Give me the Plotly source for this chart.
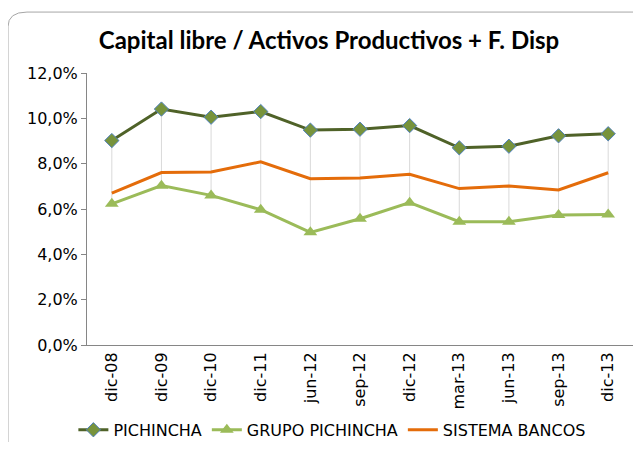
import plotly.graph_objects as go

# Datos (en %)
periodos = ["dic-08", "dic-09", "dic-10", "dic-11", "jun-12", "sep-12",
            "dic-12", "mar-13", "jun-13", "sep-13", "dic-13"]
pichincha = [9.02, 10.41, 10.05, 10.30, 9.48, 9.52, 9.68, 8.70, 8.77, 9.23, 9.32]
grupo_pichincha = [6.23, 7.03, 6.60, 5.97, 4.97, 5.57, 6.28, 5.44, 5.44, 5.74, 5.76]
sistema_bancos = [6.70, 7.61, 7.63, 8.08, 7.34, 7.37, 7.53, 6.90, 7.01, 6.84, 7.60]

font_ticks = "DejaVu Sans"

fig = go.Figure()

# Líneas máximo-mínimo por periodo
hl_x, hl_y = [], []
for i, p in enumerate(periodos):
    vals = [pichincha[i], grupo_pichincha[i], sistema_bancos[i]]
    hl_x += [p, p, None]
    hl_y += [max(vals), min(vals), None]
fig.add_trace(go.Scatter(
    x=hl_x, y=hl_y, mode="lines", showlegend=False, hoverinfo="skip",
    line=dict(color="#D9D9D9", width=1)
))

fig.add_trace(go.Scatter(
    x=periodos, y=pichincha, name="PICHINCHA", mode="lines+markers",
    line=dict(color="#4F6228", width=3),
    marker=dict(symbol="diamond", size=11, color="#77933C",
                line=dict(color="#4F81BD", width=1))
))
fig.add_trace(go.Scatter(
    x=periodos, y=grupo_pichincha, name="GRUPO PICHINCHA", mode="lines+markers",
    line=dict(color="#9BBB59", width=3),
    marker=dict(symbol="triangle-up", size=12, color="#9BBB59")
))
fig.add_trace(go.Scatter(
    x=periodos, y=sistema_bancos, name="SISTEMA BANCOS", mode="lines",
    line=dict(color="#E46C0A", width=3)
))

# Marco del gráfico
fig.add_shape(
    type="path", xref="paper", yref="paper",
    path="M -0.1447,-0.45 L -0.1447,1.17 Q -0.1447,1.224 -0.11,1.224 L 1.05,1.224",
    line=dict(color="#A6A6A6", width=1), layer="below"
)

# la página añade 8px de margen por cada lado: 641-16 x 450-16
fig.update_layout(
    width=625, height=434,
    margin=dict(l=79, r=0, t=65, b=96.5),
    paper_bgcolor="white", plot_bgcolor="white",
    separators=",.",
    title=dict(
        text="<b>Capital libre / Activos Productivos + F. Disp</b>",
        x=0.5136, xanchor="center", y=0.926, yanchor="middle",
        font=dict(family="Lato", size=24, color="black")
    ),
    xaxis=dict(
        type="category", range=[-0.5, 10.5],
        showgrid=False, showline=True, linecolor="#868686",
        tickangle=-90, ticks="", automargin=False,
        tickfont=dict(family=font_ticks, size=16, color="black")
    ),
    yaxis=dict(
        range=[0, 12], dtick=2, tickformat=".1f", ticksuffix="%",
        showgrid=False, showline=True, linecolor="#868686", zeroline=False,
        ticks="outside", ticklen=5, tickcolor="#868686", automargin=False,
        tickfont=dict(family=font_ticks, size=16, color="black")
    ),
    legend=dict(
        orientation="h", xref="container", yref="container",
        x=0.519, xanchor="center", y=0.028, yanchor="middle",
        font=dict(family=font_ticks, size=16, color="black"),
        traceorder="normal"
    ),
    showlegend=True
)

fig.write_html("out.html", config={"displayModeBar": False})
